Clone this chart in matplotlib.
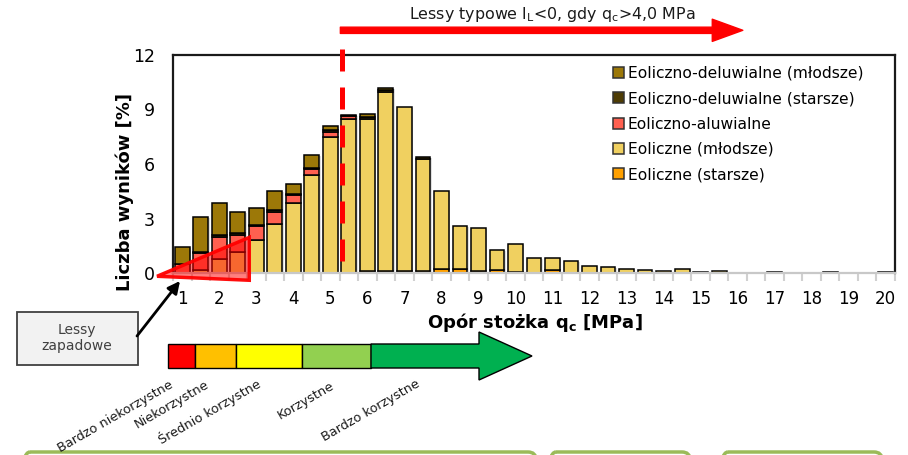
import numpy as np
import matplotlib
matplotlib.use("Agg")
import matplotlib.pyplot as plt
from matplotlib.patches import Polygon, Rectangle, FancyBboxPatch
from matplotlib import transforms

plt.rcParams['font.family'] = ['DejaVu Sans']

# cone resistance classes (MPa), 0.5 MPa bins
qc_bins = [1.0, 1.5, 2.0, 2.5, 3.0, 3.5, 4.0, 4.5, 5.0, 5.5,
           6.0, 6.5, 7.0, 7.5, 8.0, 8.5, 9.0, 9.5, 10.0, 10.5,
           11.0, 11.5, 12.0, 12.5, 13.0, 13.5, 14.0, 14.5, 15.0, 15.5,
           16.0, 16.5, 17.0, 17.5, 18.0, 18.5, 19.0, 19.5, 20.0]

# share of results [%] per genetic type of loess
eol_starsze = [0, 0, 0, 0, 0, 0, 0, 0, 0, 0,
               0.09, 0.09, 0.11, 0.13, 0.24, 0.20, 0.13, 0.18, 0.03, 0,
               0.15, 0, 0, 0, 0, 0, 0, 0, 0, 0,
               0, 0, 0, 0, 0, 0, 0, 0, 0]
eol_mlodsze = [0, 0.15, 0.79, 1.14, 1.82, 2.70, 3.87, 5.41, 7.49, 8.50,
               8.39, 9.87, 9.03, 6.15, 4.26, 2.41, 2.33, 1.09, 1.55, 0.81,
               0.66, 0.68, 0.37, 0.34, 0.24, 0.18, 0.13, 0.22, 0.03, 0.11,
               0.02, 0.02, 0.03, 0, 0, 0.03, 0, 0, 0.04]
eol_aluw = [0.51, 0.94, 1.21, 0.97, 0.75, 0.68, 0.44, 0.33, 0.29, 0.12,
            0, 0, 0, 0, 0, 0, 0, 0, 0, 0,
            0, 0, 0, 0, 0, 0, 0, 0, 0, 0,
            0, 0, 0, 0, 0, 0, 0, 0, 0]
eol_del_starsze = [0, 0.05, 0.10, 0.10, 0.05, 0.10, 0.03, 0.03, 0.07, 0.10,
                   0.11, 0.13, 0, 0.09, 0, 0, 0, 0, 0, 0,
                   0, 0, 0, 0, 0, 0, 0, 0, 0, 0,
                   0, 0, 0, 0, 0, 0, 0, 0, 0]
eol_del_mlodsze = [0.94, 1.93, 1.75, 1.16, 0.95, 1.05, 0.55, 0.70, 0.24, 0,
                   0.15, 0.09, 0, 0, 0, 0, 0, 0, 0, 0,
                   0, 0, 0, 0, 0, 0, 0, 0, 0, 0,
                   0, 0, 0, 0, 0, 0, 0, 0, 0]

series = [
    ("Eoliczne (starsze)", eol_starsze, "#FFA000"),
    ("Eoliczne (młodsze)", eol_mlodsze, "#F0D060"),
    ("Eoliczno-aluwialne", eol_aluw, "#FF6050"),
    ("Eoliczno-deluwialne (starsze)", eol_del_starsze, "#4E3C04"),
    ("Eoliczno-deluwialne (młodsze)", eol_del_mlodsze, "#9C7808"),
]

x_tick_values = list(range(1, 21))
y_tick_values = [0, 3, 6, 9, 12]

W, H = 908, 455
fig = plt.figure(figsize=(W / 100, H / 100), dpi=100)
ax = fig.add_axes([173 / W, 1 - 273 / H, (895 - 173) / W, (273 - 55) / H])

x = np.array(qc_bins)
bar_w = 0.40

# soft shadow behind the stacks
totals = np.sum([np.array(s[1]) for s in series], axis=0)
shadow_tr = transforms.offset_copy(ax.transData, fig=fig, x=1.5, y=-1, units='dots')
shadow = ax.bar(x, totals, bar_w, color='#808080', alpha=0.25, linewidth=0,
                transform=shadow_tr, zorder=1)
for r, h in zip(shadow, totals):
    if h == 0:
        r.set_visible(False)

bottom = np.zeros(len(x))
for label, vals, col in series:
    v = np.array(vals)
    bars = ax.bar(x, v, bar_w, bottom=bottom, color=col, edgecolor='black',
                  linewidth=1.1, zorder=2)
    for r, h in zip(bars, v):
        if h == 0:
            r.set_visible(False)
    bottom += v

ax.set_xlim(0.75, 20.25)
ax.set_ylim(0, 12)
ax.set_xticks(x_tick_values)
ax.set_xticklabels([str(t) for t in x_tick_values], fontsize=12)
ax.set_xticks(np.arange(0.75, 20.3, 0.5), minor=True)
ax.tick_params(axis='x', which='major', length=0, pad=12)
ax.tick_params(axis='x', which='minor', length=6, width=1.5, color='#D0D0D0')
ax.set_yticks(y_tick_values)
ax.set_yticklabels([str(t) for t in y_tick_values], fontsize=12.5)
ax.tick_params(axis='y', length=0, pad=13)
for s in ['left', 'top', 'right']:
    ax.spines[s].set_color('#1A1A1A')
    ax.spines[s].set_linewidth(1.6)
ax.spines['bottom'].set_color('#C8C8C8')
ax.spines['bottom'].set_linewidth(1.6)

# legend: top of the stack first
leg_items = series[::-1]
proxies = [Rectangle((0, 0), 1, 1, facecolor=c, edgecolor='#333333', lw=1.1)
           for _, _, c in leg_items]
ax.legend(proxies, [l for l, _, _ in leg_items],
          loc='upper left', bbox_to_anchor=(613 / W, 1 - 66 / H),
          bbox_transform=fig.transFigure, frameon=False, fontsize=11.2,
          handlelength=0.7, handleheight=0.7, handletextpad=0.25,
          labelspacing=0.66, borderpad=0, borderaxespad=0)

# collapsible loess highlight
tri = Polygon([(0.32, -0.18), (2.81, 1.96), (2.81, -0.40)], closed=True,
              facecolor=(1, 0, 0, 0.5), edgecolor=(1, 0, 0, 0.95),
              linewidth=2.5, clip_on=False, zorder=4)
ax.add_patch(tri)

# threshold q_c > 4 MPa
ax.plot([5.31, 5.31], [12.31, 0.64], color='red', linewidth=3.6,
        linestyle=(0, (4.4, 3.2)), dash_capstyle='butt', clip_on=False, zorder=5)
ax.annotate('', xy=(16.14, 13.36), xytext=(5.27, 13.36),
            arrowprops=dict(arrowstyle='simple,head_length=2.2,head_width=1.6,tail_width=0.45',
                            mutation_scale=10, color='red', shrinkA=0, shrinkB=0),
            annotation_clip=False)

# overlay in pixel units for the annotations around the chart
ov = fig.add_axes([0, 0, 1, 1], zorder=5)
ov.set_xlim(0, W)
ov.set_ylim(H, 0)
ov.axis('off')
ov.patch.set_alpha(0)

ov.text(552, 15, r'Lessy typowe I$_\mathregular{L}$<0, gdy q$_\mathregular{c}$>4,0 MPa',
        ha='center', va='center', fontsize=11.4, color='#1A1A1A')
ov.text(535, 323, r'Opór stożka q$_\mathbf{c}$ [MPa]', ha='center', va='center',
        fontsize=13, fontweight='bold')
ov.text(125, 192, 'Liczba wyników [%]', ha='center', va='center', rotation=90,
        fontsize=13, fontweight='bold')

ov.add_patch(Rectangle((17, 312), 121, 53, facecolor='#F2F2F2', edgecolor='#404040', lw=1.3))
ov.text(77, 338, 'Lessy\nzapadowe', ha='center', va='center', fontsize=10,
        color='#404040', linespacing=1.25)
ov.annotate('', xy=(180, 281), xytext=(137, 336),
            arrowprops=dict(arrowstyle='-|>', color='black', lw=2, mutation_scale=18,
                            shrinkA=0, shrinkB=0))

# favourability scale
scale_edges = [168, 195, 236, 302, 371]
scale_colors = ['#FF0000', '#FFC000', '#FFFF00', '#92D050']
for x0, x1, c in zip(scale_edges[:-1], scale_edges[1:], scale_colors):
    ov.add_patch(Rectangle((x0, 344), x1 - x0, 24, facecolor=c, edgecolor='black', lw=1))
ov.add_patch(Polygon([(371, 344), (479, 344), (479, 332), (532, 356), (479, 380),
                      (479, 368), (371, 368)], closed=True, facecolor='#00B050',
                     edgecolor='black', lw=1))

scale_labels = ['Bardzo niekorzystne', 'Niekorzystne', 'Średnio korzystne',
                'Korzystne', 'Bardzo korzystne']
label_anchor = [(172, 384), (208, 383), (260, 383), (333, 385), (419, 383)]
for t, (lx, ly) in zip(scale_labels, label_anchor):
    ov.text(lx, ly, t, ha='right', va='center', rotation=30, rotation_mode='anchor',
            fontsize=9.3, color='#1A1A1A')

# frames of the panels below
for bx, bw in [(22, 514), (548, 142), (720, 162)]:
    ov.add_patch(FancyBboxPatch((bx, 452), bw, 40, boxstyle='round,pad=0,rounding_size=8',
                                facecolor='none', edgecolor='#9BBB59', lw=2.5))

fig.savefig('out.png', dpi=100)
